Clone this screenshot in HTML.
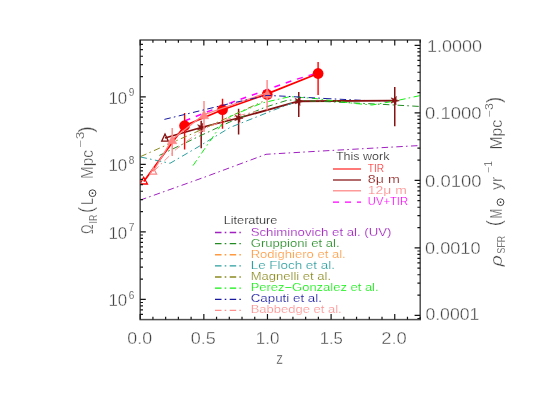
<!DOCTYPE html>
<html><head><meta charset="utf-8"><title>chart</title><style>html,body{margin:0;padding:0;background:#fff}body{width:560px;height:400px;overflow:hidden}svg{will-change:transform}</style></head><body>
<svg width="560" height="400" viewBox="0 0 560 400" style="display:block;font-family:'Liberation Sans',sans-serif">
<rect width="560" height="400" fill="#fff"/>
<clipPath id="c"><rect x="140.2" y="40.0" width="280.0" height="279.6"/></clipPath>
<g clip-path="url(#c)">
<polyline points="184.60,121.00 222.50,105.80 267.10,89.70 293.75,80.10 318.10,72.70" fill="none" stroke="#ff00ff" stroke-width="1.5" stroke-dasharray="6 6" />
<polyline points="325.00,98.50 365.00,100.50 394.70,101.00" fill="none" stroke="#1818a0" stroke-width="1.0" stroke-dasharray="6.5 3.2 1.6 3.4" />
<polyline points="165.00,138.00 201.20,127.50 238.60,118.00 298.75,101.25 394.75,100.60" fill="none" stroke="#861212" stroke-width="1.8" />
<line x1="201.2" y1="120.7" x2="201.2" y2="148.2" stroke="#861212" stroke-width="1.5"/>
<line x1="238.6" y1="108.75" x2="238.6" y2="134.4" stroke="#861212" stroke-width="1.5"/>
<line x1="298.75" y1="91.9" x2="298.75" y2="116.9" stroke="#861212" stroke-width="1.5"/>
<line x1="394.75" y1="86.9" x2="394.75" y2="126.25" stroke="#861212" stroke-width="1.5"/>
<polygon points="165.00,134.00 168.30,141.20 161.70,141.20" fill="none" stroke="#861212" stroke-width="1.3" stroke-linejoin="miter"/>
<polyline points="143.75,181.50 184.60,125.70 222.50,109.70 267.10,93.90 318.10,73.50" fill="none" stroke="#ff0000" stroke-width="1.7" />
<line x1="184.6" y1="113" x2="184.6" y2="149.4" stroke="#ff0000" stroke-width="1.4"/>
<line x1="222.5" y1="98.75" x2="222.5" y2="128.75" stroke="#ff0000" stroke-width="1.4"/>
<line x1="318.1" y1="61.9" x2="318.1" y2="95" stroke="#ff0000" stroke-width="1.4"/>
<polygon points="143.75,177.20 147.45,184.00 140.05,184.00" fill="none" stroke="#ff0000" stroke-width="1.3" stroke-linejoin="miter"/>
<circle cx="184.6" cy="125.7" r="5.4" fill="#ff0000"/>
<circle cx="222.5" cy="109.7" r="5.4" fill="#ff0000"/>
<circle cx="267.2" cy="94.5" r="5.4" fill="#ff0000"/>
<circle cx="318.1" cy="73.5" r="5.4" fill="#ff0000"/>
<polyline points="140.00,200.20 205.00,177.00 266.00,154.30 320.00,151.10 420.40,145.50" fill="none" stroke="#a020c0" stroke-width="1.0" stroke-dasharray="6.5 3.2 1.6 3.4" />
<polyline points="159.40,155.40 198.00,136.80 230.00,121.90 265.00,107.30 288.00,100.00 320.00,101.30 355.00,103.00 387.00,104.60 420.40,106.50" fill="none" stroke="#228b22" stroke-width="1.0" stroke-dasharray="6.5 3.2 1.6 3.4" />
<polyline points="140.50,157.00 170.00,163.30 198.00,147.00 230.00,127.50 275.00,109.60 292.00,103.20" fill="none" stroke="#2a9d9d" stroke-width="1.0" stroke-dasharray="6.5 3.2 1.6 3.4" />
<polyline points="140.50,156.60 170.00,143.50 198.00,131.20 230.00,116.50 262.50,101.60" fill="none" stroke="#8b8b20" stroke-width="1.0" stroke-dasharray="6.5 3.2 1.6 3.4" />
<polyline points="193.00,165.60 222.00,123.80 230.00,116.50 262.00,103.00 290.00,96.60 315.00,98.50 355.00,103.50 372.00,105.00 395.00,101.00 420.40,95.50" fill="none" stroke="#10f010" stroke-width="1.0" stroke-dasharray="6.5 3.2 1.6 3.4" />
<polygon points="202.74,123.27 202.54,126.59 205.70,127.66 202.48,128.50 202.44,131.83 200.65,129.02 197.47,130.02 199.58,127.44 197.65,124.73 200.75,125.94" fill="#861212" stroke="#861212" stroke-width="0.6"/>
<polygon points="240.14,113.77 239.94,117.09 243.10,118.16 239.88,119.00 239.84,122.33 238.05,119.52 234.87,120.52 236.98,117.94 235.05,115.23 238.15,116.44" fill="#861212" stroke="#861212" stroke-width="0.6"/>
<polygon points="300.29,97.02 300.09,100.34 303.25,101.41 300.03,102.25 299.99,105.58 298.20,102.77 295.02,103.77 297.13,101.19 295.20,98.48 298.30,99.69" fill="#861212" stroke="#861212" stroke-width="0.6"/>
<polygon points="396.29,96.37 396.09,99.69 399.25,100.76 396.03,101.60 395.99,104.93 394.20,102.12 391.02,103.12 393.13,100.54 391.20,97.83 394.30,99.04" fill="#861212" stroke="#861212" stroke-width="0.6"/>
<polyline points="153.10,171.50 172.20,139.40 204.00,114.50 267.10,92.80" fill="none" stroke="#ff8585" stroke-width="1.35" />
<line x1="172.2" y1="128" x2="172.2" y2="156" stroke="#ff8585" stroke-width="1.4"/>
<line x1="204" y1="101" x2="204" y2="132" stroke="#ff8585" stroke-width="1.4"/>
<line x1="267.1" y1="80" x2="267.1" y2="110.6" stroke="#ff8585" stroke-width="1.4"/>
<polygon points="267.30,89.20 271.90,97.80 262.70,97.80" fill="#ff7c7c" stroke="#ff7c7c" stroke-width="0.5" stroke-linejoin="miter"/>
<polygon points="153.30,167.70 156.60,174.10 150.00,174.10" fill="none" stroke="#ff8585" stroke-width="1.2" stroke-linejoin="miter"/>
<polygon points="172.20,135.45 176.90,143.75 167.50,143.75" fill="#ff8585" stroke="#ff8585" stroke-width="0.5" stroke-linejoin="miter"/>
<polygon points="204.00,110.45 208.70,118.75 199.30,118.75" fill="#ff8585" stroke="#ff8585" stroke-width="0.5" stroke-linejoin="miter"/>
<polyline points="164.40,119.40 228.00,104.00 267.00,95.40 288.00,96.40 325.00,98.50" fill="none" stroke="#1818a0" stroke-width="1.0" stroke-dasharray="6.5 3.2 1.6 3.4" />
<polyline points="154.00,171.00 176.20,149.20 194.20,135.70 207.00,127.50 235.00,116.50 256.00,111.50" fill="none" stroke="#ff9090" stroke-width="1.0" stroke-dasharray="6.5 3.2 1.6 3.4" />
</g>
<rect x="140.2" y="40.0" width="280.0" height="279.6" fill="none" stroke="#505050" stroke-width="1.5"/>
<path d="M140.20 319.6v-5.6M140.20 40.0v5.6M152.93 319.6v-2.8M152.93 40.0v2.8M165.65 319.6v-2.8M165.65 40.0v2.8M178.38 319.6v-2.8M178.38 40.0v2.8M191.11 319.6v-2.8M191.11 40.0v2.8M203.84 319.6v-5.6M203.84 40.0v5.6M216.56 319.6v-2.8M216.56 40.0v2.8M229.29 319.6v-2.8M229.29 40.0v2.8M242.02 319.6v-2.8M242.02 40.0v2.8M254.75 319.6v-2.8M254.75 40.0v2.8M267.47 319.6v-5.6M267.47 40.0v5.6M280.20 319.6v-2.8M280.20 40.0v2.8M292.93 319.6v-2.8M292.93 40.0v2.8M305.65 319.6v-2.8M305.65 40.0v2.8M318.38 319.6v-2.8M318.38 40.0v2.8M331.11 319.6v-5.6M331.11 40.0v5.6M343.84 319.6v-2.8M343.84 40.0v2.8M356.56 319.6v-2.8M356.56 40.0v2.8M369.29 319.6v-2.8M369.29 40.0v2.8M382.02 319.6v-2.8M382.02 40.0v2.8M394.75 319.6v-5.6M394.75 40.0v5.6M407.47 319.6v-2.8M407.47 40.0v2.8M420.20 319.6v-2.8M420.20 40.0v2.8M140.2 314.37h2.8M140.2 309.86h2.8M140.2 305.94h2.8M140.2 302.49h2.8M140.2 299.40h5.6M140.2 279.08h2.8M140.2 267.19h2.8M140.2 258.76h2.8M140.2 252.22h2.8M140.2 246.87h2.8M140.2 242.36h2.8M140.2 238.44h2.8M140.2 234.99h2.8M140.2 231.90h5.6M140.2 211.58h2.8M140.2 199.69h2.8M140.2 191.26h2.8M140.2 184.72h2.8M140.2 179.37h2.8M140.2 174.86h2.8M140.2 170.94h2.8M140.2 167.49h2.8M140.2 164.40h5.6M140.2 144.08h2.8M140.2 132.19h2.8M140.2 123.76h2.8M140.2 117.22h2.8M140.2 111.87h2.8M140.2 107.36h2.8M140.2 103.44h2.8M140.2 99.99h2.8M140.2 96.90h5.6M140.2 76.58h2.8M140.2 64.69h2.8M140.2 56.26h2.8M140.2 49.72h2.8M140.2 44.37h2.8M420.2 318.49h-2.8M420.2 315.40h-5.6M420.2 295.08h-2.8M420.2 283.19h-2.8M420.2 274.76h-2.8M420.2 268.22h-2.8M420.2 262.87h-2.8M420.2 258.36h-2.8M420.2 254.44h-2.8M420.2 250.99h-2.8M420.2 247.90h-5.6M420.2 227.58h-2.8M420.2 215.69h-2.8M420.2 207.26h-2.8M420.2 200.72h-2.8M420.2 195.37h-2.8M420.2 190.86h-2.8M420.2 186.94h-2.8M420.2 183.49h-2.8M420.2 180.40h-5.6M420.2 160.08h-2.8M420.2 148.19h-2.8M420.2 139.76h-2.8M420.2 133.22h-2.8M420.2 127.87h-2.8M420.2 123.36h-2.8M420.2 119.44h-2.8M420.2 115.99h-2.8M420.2 112.90h-5.6M420.2 92.58h-2.8M420.2 80.69h-2.8M420.2 72.26h-2.8M420.2 65.72h-2.8M420.2 60.37h-2.8M420.2 55.86h-2.8M420.2 51.94h-2.8M420.2 48.49h-2.8M420.2 45.40h-5.6" stroke="#141414" stroke-width="1.2" fill="none"/>
<text x="127.35" y="344.3" font-size="16" fill="#424242" stroke="#fff" stroke-width="0.36" text-anchor="start" textLength="24.7" lengthAdjust="spacingAndGlyphs" >0.0</text>
<text x="190.8" y="344.3" font-size="16" fill="#424242" stroke="#fff" stroke-width="0.36" text-anchor="start" textLength="25" lengthAdjust="spacingAndGlyphs" >0.5</text>
<text x="255.85000000000002" y="344.3" font-size="16" fill="#424242" stroke="#fff" stroke-width="0.36" text-anchor="start" textLength="23.5" lengthAdjust="spacingAndGlyphs" >1.0</text>
<text x="319.7" y="344.3" font-size="16" fill="#424242" stroke="#fff" stroke-width="0.36" text-anchor="start" textLength="23.2" lengthAdjust="spacingAndGlyphs" >1.5</text>
<text x="381.25" y="344.3" font-size="16" fill="#424242" stroke="#fff" stroke-width="0.36" text-anchor="start" textLength="25.5" lengthAdjust="spacingAndGlyphs" >2.0</text>
<text x="276.2" y="364.3" font-size="17.2" fill="#424242" stroke="#fff" stroke-width="0.36" text-anchor="start" textLength="6.7" lengthAdjust="spacingAndGlyphs" >z</text>
<text x="427.1" y="52.1" font-size="16" fill="#424242" stroke="#fff" stroke-width="0.36" text-anchor="start" textLength="55" lengthAdjust="spacingAndGlyphs" >1.0000</text>
<text x="425" y="119.4" font-size="16" fill="#424242" stroke="#fff" stroke-width="0.36" text-anchor="start" textLength="56.4" lengthAdjust="spacingAndGlyphs" >0.1000</text>
<text x="425" y="186.9" font-size="16" fill="#424242" stroke="#fff" stroke-width="0.36" text-anchor="start" textLength="56.4" lengthAdjust="spacingAndGlyphs" >0.0100</text>
<text x="425" y="254.4" font-size="16" fill="#424242" stroke="#fff" stroke-width="0.36" text-anchor="start" textLength="55.5" lengthAdjust="spacingAndGlyphs" >0.0010</text>
<text x="425.4" y="320" font-size="16" fill="#424242" stroke="#fff" stroke-width="0.36" text-anchor="start" textLength="53.9" lengthAdjust="spacingAndGlyphs" >0.0001</text>
<text x="108.4" y="103.75" font-size="16" fill="#424242" stroke="#fff" stroke-width="0.36" text-anchor="start" textLength="18.8" lengthAdjust="spacingAndGlyphs" >10</text>
<text x="128.7" y="96.25" font-size="10.2" fill="#424242" stroke="#fff" stroke-width="0.18" text-anchor="start" textLength="5.6" lengthAdjust="spacingAndGlyphs" >9</text>
<text x="108.4" y="171.25" font-size="16" fill="#424242" stroke="#fff" stroke-width="0.36" text-anchor="start" textLength="18.8" lengthAdjust="spacingAndGlyphs" >10</text>
<text x="128.7" y="163.75" font-size="10.2" fill="#424242" stroke="#fff" stroke-width="0.18" text-anchor="start" textLength="5.6" lengthAdjust="spacingAndGlyphs" >8</text>
<text x="108.4" y="238.75" font-size="16" fill="#424242" stroke="#fff" stroke-width="0.36" text-anchor="start" textLength="18.8" lengthAdjust="spacingAndGlyphs" >10</text>
<text x="128.7" y="231.25" font-size="10.2" fill="#424242" stroke="#fff" stroke-width="0.18" text-anchor="start" textLength="5.6" lengthAdjust="spacingAndGlyphs" >7</text>
<text x="108.4" y="306.25" font-size="16" fill="#424242" stroke="#fff" stroke-width="0.36" text-anchor="start" textLength="18.8" lengthAdjust="spacingAndGlyphs" >10</text>
<text x="128.7" y="298.75" font-size="10.2" fill="#424242" stroke="#fff" stroke-width="0.18" text-anchor="start" textLength="5.6" lengthAdjust="spacingAndGlyphs" >6</text>
<text x="336" y="159.7" font-size="11.1" fill="#2a2a2a" stroke="#fff" stroke-width="0.18" text-anchor="start" textLength="53.4" lengthAdjust="spacingAndGlyphs" >This work</text>
<line x1="333" y1="169" x2="361" y2="169" stroke="#ff2828" stroke-width="1.25"/>
<text x="367.8" y="172" font-size="11.1" fill="#ff2828" stroke="#fff" stroke-width="0.18" text-anchor="start" textLength="16.4" lengthAdjust="spacingAndGlyphs" >TIR</text>
<line x1="333" y1="180" x2="361" y2="180" stroke="#861212" stroke-width="1.25"/>
<text x="367.8" y="182.8" font-size="11.1" fill="#861212" stroke="#fff" stroke-width="0.18" text-anchor="start" textLength="32" lengthAdjust="spacingAndGlyphs" >8μ m</text>
<line x1="333" y1="190.8" x2="361" y2="190.8" stroke="#ff8585" stroke-width="1.25"/>
<text x="367.8" y="193.6" font-size="11.1" fill="#ff8585" stroke="#fff" stroke-width="0.18" text-anchor="start" textLength="39" lengthAdjust="spacingAndGlyphs" >12μ m</text>
<line x1="333" y1="202" x2="361" y2="202" stroke="#ff00ff" stroke-width="1.25" stroke-dasharray="6 6"/>
<text x="367.8" y="204.7" font-size="11.1" fill="#ff00ff" stroke="#fff" stroke-width="0.18" text-anchor="start" textLength="40.2" lengthAdjust="spacingAndGlyphs" >UV+TIR</text>
<text x="223.7" y="223.7" font-size="11.1" fill="#2a2a2a" stroke="#fff" stroke-width="0.18" text-anchor="start" textLength="53.6" lengthAdjust="spacingAndGlyphs" >Literature</text>
<line x1="215" y1="232.50" x2="240.8" y2="232.50" stroke="#a020c0" stroke-width="1.3" stroke-dasharray="6.5 3.2 1.6 3.4"/>
<text x="250.7" y="235.50" font-size="11.1" fill="#a020c0" stroke="#fff" stroke-width="0.18" text-anchor="start" textLength="140.8" lengthAdjust="spacingAndGlyphs" >Schiminovich et al. (UV)</text>
<line x1="215" y1="243.63" x2="240.8" y2="243.63" stroke="#228b22" stroke-width="1.3" stroke-dasharray="6.5 3.2 1.6 3.4"/>
<text x="250.7" y="246.63" font-size="11.1" fill="#228b22" stroke="#fff" stroke-width="0.18" text-anchor="start" textLength="88.9" lengthAdjust="spacingAndGlyphs" >Gruppioni et al.</text>
<line x1="215" y1="254.76" x2="240.8" y2="254.76" stroke="#ff9a40" stroke-width="1.3" stroke-dasharray="6.5 3.2 1.6 3.4"/>
<text x="250.7" y="257.76" font-size="11.1" fill="#ff9a40" stroke="#fff" stroke-width="0.18" text-anchor="start" textLength="95.0" lengthAdjust="spacingAndGlyphs" >Rodighiero et al.</text>
<line x1="215" y1="265.89" x2="240.8" y2="265.89" stroke="#2a9d9d" stroke-width="1.3" stroke-dasharray="6.5 3.2 1.6 3.4"/>
<text x="250.7" y="268.89" font-size="11.1" fill="#2a9d9d" stroke="#fff" stroke-width="0.18" text-anchor="start" textLength="84.2" lengthAdjust="spacingAndGlyphs" >Le Floch et al.</text>
<line x1="215" y1="277.02" x2="240.8" y2="277.02" stroke="#8b8b20" stroke-width="1.3" stroke-dasharray="6.5 3.2 1.6 3.4"/>
<text x="250.7" y="280.02" font-size="11.1" fill="#8b8b20" stroke="#fff" stroke-width="0.18" text-anchor="start" textLength="80.4" lengthAdjust="spacingAndGlyphs" >Magnelli et al.</text>
<line x1="215" y1="288.15" x2="240.8" y2="288.15" stroke="#10f010" stroke-width="1.3" stroke-dasharray="6.5 3.2 1.6 3.4"/>
<text x="250.7" y="291.15" font-size="11.1" fill="#10f010" stroke="#fff" stroke-width="0.18" text-anchor="start" textLength="127.9" lengthAdjust="spacingAndGlyphs" >Perez−Gonzalez et al.</text>
<line x1="215" y1="299.28" x2="240.8" y2="299.28" stroke="#1818a0" stroke-width="1.3" stroke-dasharray="6.5 3.2 1.6 3.4"/>
<text x="250.7" y="302.28" font-size="11.1" fill="#1818a0" stroke="#fff" stroke-width="0.18" text-anchor="start" textLength="71.3" lengthAdjust="spacingAndGlyphs" >Caputi et al.</text>
<line x1="215" y1="310.41" x2="240.8" y2="310.41" stroke="#ff9090" stroke-width="1.3" stroke-dasharray="6.5 3.2 1.6 3.4"/>
<text x="250.7" y="313.41" font-size="11.1" fill="#ff9090" stroke="#fff" stroke-width="0.18" text-anchor="start" textLength="91.0" lengthAdjust="spacingAndGlyphs" >Babbedge et al.</text>
<g transform="translate(93 233.9) rotate(-90)">
<text x="0" y="0" font-size="16" fill="#424242" stroke="#fff" stroke-width="0.36" text-anchor="start" textLength="9.6" lengthAdjust="spacingAndGlyphs" >Ω</text>
<text x="10.5" y="3.5" font-size="10.2" fill="#424242" stroke="#fff" stroke-width="0.18" text-anchor="start" textLength="8.7" lengthAdjust="spacingAndGlyphs" >IR</text>
<text x="21" y="-0.3" font-size="20" fill="#424242" stroke="#fff" stroke-width="0.36" text-anchor="start" textLength="6.1" lengthAdjust="spacingAndGlyphs" >(</text>
<text x="28.9" y="0" font-size="16" fill="#424242" stroke="#fff" stroke-width="0.36" text-anchor="start" textLength="7" lengthAdjust="spacingAndGlyphs" >L</text>
<circle cx="40.7" cy="-0.5" r="3.4" fill="none" stroke="#424242" stroke-width="1"/><circle cx="40.7" cy="-0.5" r="0.9" fill="#424242"/>
<text x="55" y="0" font-size="16" fill="#424242" stroke="#fff" stroke-width="0.36" text-anchor="start" textLength="28.9" lengthAdjust="spacingAndGlyphs" >Mpc</text>
<text x="86.5" y="-8.7" font-size="10.2" fill="#424242" stroke="#fff" stroke-width="0.18" text-anchor="start" textLength="15.8" lengthAdjust="spacingAndGlyphs" >−3</text>
<text x="101.4" y="-0.3" font-size="20" fill="#424242" stroke="#fff" stroke-width="0.36" text-anchor="start" textLength="6.1" lengthAdjust="spacingAndGlyphs" >)</text>
</g>
<g transform="translate(501.7 266.5) rotate(-90)">
<text x="0" y="0" font-size="16" fill="#424242" stroke="#fff" stroke-width="0.36" text-anchor="start" textLength="11.3" lengthAdjust="spacingAndGlyphs" font-style="italic">ρ</text>
<text x="13.1" y="3" font-size="10.2" fill="#424242" stroke="#fff" stroke-width="0.18" text-anchor="start" textLength="17.5" lengthAdjust="spacingAndGlyphs" >SFR</text>
<text x="40.2" y="-0.3" font-size="20" fill="#424242" stroke="#fff" stroke-width="0.36" text-anchor="start" textLength="6.2" lengthAdjust="spacingAndGlyphs" >(</text>
<text x="48.1" y="0" font-size="16" fill="#424242" stroke="#fff" stroke-width="0.36" text-anchor="start" textLength="9.6" lengthAdjust="spacingAndGlyphs" >M</text>
<circle cx="64.3" cy="-1.2" r="3.4" fill="none" stroke="#424242" stroke-width="1"/><circle cx="64.3" cy="-1.2" r="0.9" fill="#424242"/>
<text x="76.6" y="0" font-size="16" fill="#424242" stroke="#fff" stroke-width="0.36" text-anchor="start" textLength="13.1" lengthAdjust="spacingAndGlyphs" >yr</text>
<text x="94.1" y="-9.4" font-size="10.2" fill="#424242" stroke="#fff" stroke-width="0.18" text-anchor="start" textLength="11.4" lengthAdjust="spacingAndGlyphs" >−1</text>
<text x="117" y="0" font-size="16" fill="#424242" stroke="#fff" stroke-width="0.36" text-anchor="start" textLength="29.7" lengthAdjust="spacingAndGlyphs" >Mpc</text>
<text x="149.4" y="-8.6" font-size="10.2" fill="#424242" stroke="#fff" stroke-width="0.18" text-anchor="start" textLength="14" lengthAdjust="spacingAndGlyphs" >−3</text>
<text x="163.4" y="-0.3" font-size="20" fill="#424242" stroke="#fff" stroke-width="0.36" text-anchor="start" textLength="6.1" lengthAdjust="spacingAndGlyphs" >)</text>
</g>
</svg>
</body></html>
